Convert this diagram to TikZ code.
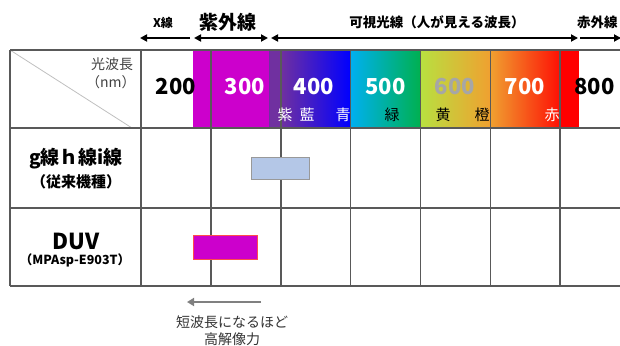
\documentclass[tikz,border=0pt]{standalone}
\usepackage{fontspec}
\setmainfont{Noto Sans CJK JP}
\usetikzlibrary{arrows.meta}
\definecolor{gridc}{HTML}{595959}
\definecolor{magv}{HTML}{CC00CC}
\definecolor{purv}{HTML}{7030A0}
\definecolor{dblue}{HTML}{000099}
\definecolor{bluev}{HTML}{0000FF}
\definecolor{cyanv}{HTML}{00B0F0}
\definecolor{greenv}{HTML}{00B050}
\definecolor{ygreen}{HTML}{B8E040}
\definecolor{yel}{HTML}{FFFF00}
\definecolor{orgv}{HTML}{F0A030}
\definecolor{redv}{HTML}{FF0000}
\definecolor{lblue}{HTML}{B4C7E7}
\definecolor{gray6}{HTML}{A6A6A6}
\tikzset{
  gridline/.style={draw=gridc, line width=1.2pt},
  num/.style={font=\fontsize{22}{24}\selectfont\bfseries, inner sep=0pt},
  cname/.style={font=\fontsize{15}{17}\selectfont, inner sep=0pt},
  toplabel/.style={font=\fontsize{13.5}{15}\selectfont\bfseries, inner sep=0pt},
  blackarrow/.style={line width=1.8pt, -{Triangle[length=7pt,width=7pt]}},
  rowlabel/.style={font=\bfseries, align=center, inner sep=0pt},
}
\begin{document}
\begin{tikzpicture}[x=1pt,y=-1pt]
\useasboundingbox (0,0) rectangle (620,345);
% spectrum band
\fill[magv] (193,50) rectangle (269,128);
\fill[purv] (269,50) rectangle (281,128);
\shade[left color=purv, middle color=dblue, right color=bluev] (281,50) rectangle (350.5,128);
\shade[left color=cyanv, right color=greenv] (350.5,50) rectangle (420.5,128);
\shade[left color=ygreen, middle color=yel, right color=orgv] (420.5,50) rectangle (490.5,128);
\shade[left color=orgv, right color=redv!90!orgv] (490.5,50) rectangle (560,128);
\fill[redv] (560,50) rectangle (579,128);
% diagonal
\coordinate (dg1) at (10,50);
\coordinate (dg2) at (132,128);
\draw[gray!50, line width=0.8pt] (dg1) -- (dg2);
% grid
\foreach \yy in {50,128,208,286} \draw[gridline] (10,\yy) -- (620,\yy);
\foreach \xx in {10,141,211,281,350.5,420.5,490.5,560} \draw[gridline] (\xx,50) -- (\xx,286);
% header labels
\node[anchor=west, inner sep=0pt, text=black!75, font=\fontsize{14}{16}\selectfont] (lam) at (91,64) {光波長};
\node[anchor=west, inner sep=0pt, text=black!75, font=\fontsize{14}{16}\selectfont] (nm) at (86,82) {（nm）};
% numbers
\node[num] (n200) at (176,87) {200};
\node[num, text=white] (n300) at (245,87) {300};
\node[num, text=white] (n400) at (314,87) {400};
\node[num, text=white] (n500) at (385.5,87) {500};
\node[num, text=gray6] (n600) at (455,87) {600};
\node[num, text=white] (n700) at (525,87) {700};
\node[num] (n800) at (594.5,87) {800};
% colour names
\node[cname, text=white] (c1) at (285,115) {紫};
\node[cname, text=white] (c2) at (307,115) {藍};
\node[cname, text=white] (c3) at (343,115) {青};
\node[cname] (c4) at (392,115) {緑};
\node[cname] (c5) at (443,115) {黄};
\node[cname] (c6) at (482,115) {橙};
\node[cname, text=white] (c7) at (552,115) {赤};
% top labels and arrows
\node[toplabel, font=\fontsize{12}{14}\selectfont\bfseries] (lx) at (163,23) {X線};
\node[toplabel, font=\fontsize{19}{21}\selectfont\bfseries] (luv) at (228,22) {紫外線};
\node[toplabel] (lvis) at (437,22) {可視光線（人が見える波長）};
\node[toplabel, anchor=west] (lir) at (577,22) {赤外線};
\coordinate (ax1) at (140,38); \coordinate (ax2) at (190,38);
\coordinate (au1) at (194,38); \coordinate (au2) at (268,38);
\coordinate (av1) at (271,38); \coordinate (av2) at (578,38);
\coordinate (ai1) at (580,38); \coordinate (ai2) at (621,38);
\draw[blackarrow] (ax2) -- (ax1);
\draw[blackarrow, {Triangle[length=7pt,width=7pt]}-{Triangle[length=7pt,width=7pt]}] (au1) -- (au2);
\draw[blackarrow, {Triangle[length=7pt,width=7pt]}-{Triangle[length=7pt,width=7pt]}] (av1) -- (av2);
\draw[blackarrow] (ai1) -- (ai2);
% row labels
\node[rowlabel, font=\fontsize{19}{21}\selectfont\bfseries] (g) at (76,159) {g線ｈ線i線};
\node[rowlabel, font=\fontsize{15}{17}\selectfont\bfseries] (gsub) at (76,182) {（従来機種）};
\node[rowlabel, font=\fontsize{22}{24}\selectfont\bfseries] (duv) at (76,241) {DUV};
\node[rowlabel, font=\fontsize{12.5}{14}\selectfont\bfseries] (duvsub) at (75,260) {（MPAsp-E903T）};
% bars
\node[draw=gray!80, line width=1pt, fill=lblue, minimum width=58pt, minimum height=22pt, inner sep=0pt] (bar1) at (280,168) {};
\node[draw=red!70, line width=1pt, fill=magv, minimum width=64pt, minimum height=24pt, inner sep=0pt] (bar2) at (225,247) {};
% bottom arrow
\coordinate (b1) at (261,302); \coordinate (b2) at (187,302);
\draw[gray, line width=2.6pt, -{Triangle[length=7pt,width=8pt]}] (b1) -- (b2);
\node[font=\fontsize{14}{16}\selectfont, text=black!80, inner sep=0pt] (t1) at (232,322) {短波長になるほど};
\node[font=\fontsize{14}{16}\selectfont, text=black!80, inner sep=0pt] (t2) at (232,339) {高解像力};
\end{tikzpicture}
\end{document}
